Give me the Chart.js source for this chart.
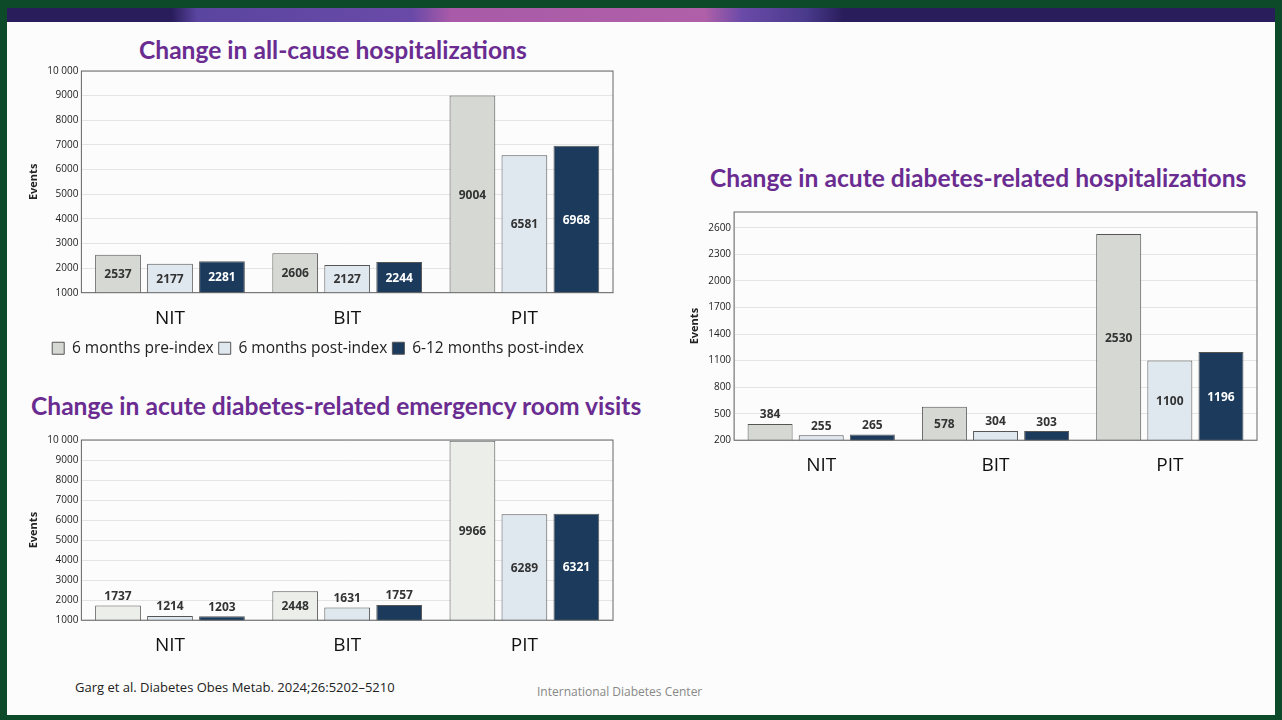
<!DOCTYPE html>
<html><head><meta charset="utf-8">
<script src="https://cdn.jsdelivr.net/npm/chart.js@4.4.1/dist/chart.umd.min.js"></script>
<style>
body{margin:0;width:1282px;height:720px;background:#0d4a2a;position:relative;overflow:hidden;font-family:"Open Sans",sans-serif}
#band{position:absolute;left:7px;top:8px;width:1268px;height:14px;background:linear-gradient(90deg,#2a1d5c 0%,#2a1d5c 13%,#5a45a0 15%,#6a4aa8 32%,#a95aa8 35%,#b060a8 55%,#6a4aa8 58%,#4a3a8c 63%,#2a1d5c 66%,#2a1d5c 100%)}
#slide{position:absolute;left:7px;top:22px;width:1268px;height:693px;background:#fbfcfb}
.c{position:absolute}
.t{position:absolute;color:#6a2c91;font:bold 24.6px Lato,sans-serif;white-space:nowrap}
.f{position:absolute;font-size:13px;color:#222}
</style></head><body>
<div id="band"></div><div id="slide"></div>
<div class="t" style="left:139px;top:35px">Change in all-cause hospitalizations</div>
<div class="t" style="left:710px;top:163px">Change in acute diabetes-related hospitalizations</div>
<div class="t" style="left:31px;top:391px">Change in acute diabetes-related emergency room visits</div>
<div class="c" style="left:23px;top:62px;width:612px;height:304px"><canvas id="c1"></canvas></div>
<div class="c" style="left:684px;top:203px;width:581px;height:280px"><canvas id="c2"></canvas></div>
<div class="c" style="left:23px;top:431px;width:598px;height:232px"><canvas id="c3"></canvas></div>
<div class="f" style="left:75px;top:678px">Garg et al. Diabetes Obes Metab. 2024;26:5202–5210</div>
<div class="f" style="left:537px;top:683px;color:#888;font-size:12px">International Diabetes Center</div>
<script>
const groups = ['NIT', 'BIT', 'PIT'];
const seriesNames = ['6 months pre-index', '6 months post-index', '6-12 months post-index'];
const allCausePre = [2537, 2606, 9004];
const allCausePost6 = [2177, 2127, 6581];
const allCausePost12 = [2281, 2244, 6968];
const acuteHospPre = [384, 578, 2530];
const acuteHospPost6 = [255, 304, 1100];
const acuteHospPost12 = [265, 303, 1196];
const erPre = [1737, 2448, 9966];
const erPost6 = [1214, 1631, 6289];
const erPost12 = [1203, 1757, 6321];
const eventTicks = [1000, 2000, 3000, 4000, 5000, 6000, 7000, 8000, 9000, 10000];
const acuteTicks = [200, 500, 800, 1100, 1400, 1700, 2000, 2300, 2600];
const colors = ['#d6d8d4', '#dfe7ef', '#1b3a5c'];

const boxAndLabels = {
  id: 'boxAndLabels',
  afterDraw(chart) {
    const ctx = chart.ctx, a = chart.chartArea;
    ctx.save();
    ctx.strokeStyle = '#666'; ctx.lineWidth = 1;
    ctx.strokeRect(a.left, a.top, a.right - a.left, a.bottom - a.top);
    ctx.font = 'bold 12px "Open Sans"';
    ctx.textAlign = 'center'; ctx.textBaseline = 'middle';
    chart.data.datasets.forEach((ds, i) => {
      chart.getDatasetMeta(i).data.forEach((bar, j) => {
        const base = Math.min(bar.base, a.bottom);
        const h = base - bar.y;
        let y = (bar.y + base) / 2 + 1;
        ctx.fillStyle = i === 2 ? '#fff' : '#333';
        if (h < 20) { y = bar.y - 9; ctx.fillStyle = '#333'; }
        ctx.fillText(ds.data[j], bar.x, y);
      });
    });
    ctx.restore();
  }
};

function makeChart(id, pre, post6, post12, tickVals, yMax, legend, preColor, padRight) {
  const data = [pre, post6, post12];
  new Chart(document.getElementById(id), {
    type: 'bar',
    data: {
      labels: groups,
      datasets: data.map((d, i) => ({
        label: seriesNames[i], data: d,
        backgroundColor: i === 0 && preColor ? preColor : colors[i],
        borderColor: '#555', borderWidth: 1,
        categoryPercentage: 0.88, barPercentage: 0.88
      }))
    },
    options: {
      animation: false, responsive: true, maintainAspectRatio: false,
      layout: { padding: { top: 8, right: padRight || 8 } },
      plugins: {
        tooltip: { enabled: false },
        legend: {
          display: legend, position: 'bottom',
          labels: { boxWidth: 12, boxHeight: 12, color: '#222', font: { size: 15.5, family: 'Open Sans' }, padding: 5 }
        }
      },
      scales: {
        x: {
          grid: { display: false },
          ticks: { color: '#111', font: { size: 19, family: 'Open Sans' }, padding: 6 }
        },
        y: {
          min: tickVals[0], max: yMax,
          afterBuildTicks: ax => { ax.ticks = tickVals.map(v => ({ value: v })); },
          ticks: {
            color: '#222', font: { size: 10, family: 'Open Sans' },
            callback: v => v === 10000 ? '10 000' : v
          },
          grid: { color: '#e4e4e4', drawTicks: false },
          title: { display: true, text: 'Events', color: '#222', font: { size: 11, weight: 'bold', family: 'Open Sans' } }
        }
      }
    },
    plugins: [boxAndLabels]
  });
}

makeChart('c1', allCausePre, allCausePost6, allCausePost12, eventTicks, 10000, true, null, 22);
makeChart('c2', acuteHospPre, acuteHospPost6, acuteHospPost12, acuteTicks, 2780, false);
makeChart('c3', erPre, erPost6, erPost12, eventTicks, 10000, false, '#eceeea');
</script>
</body></html>
